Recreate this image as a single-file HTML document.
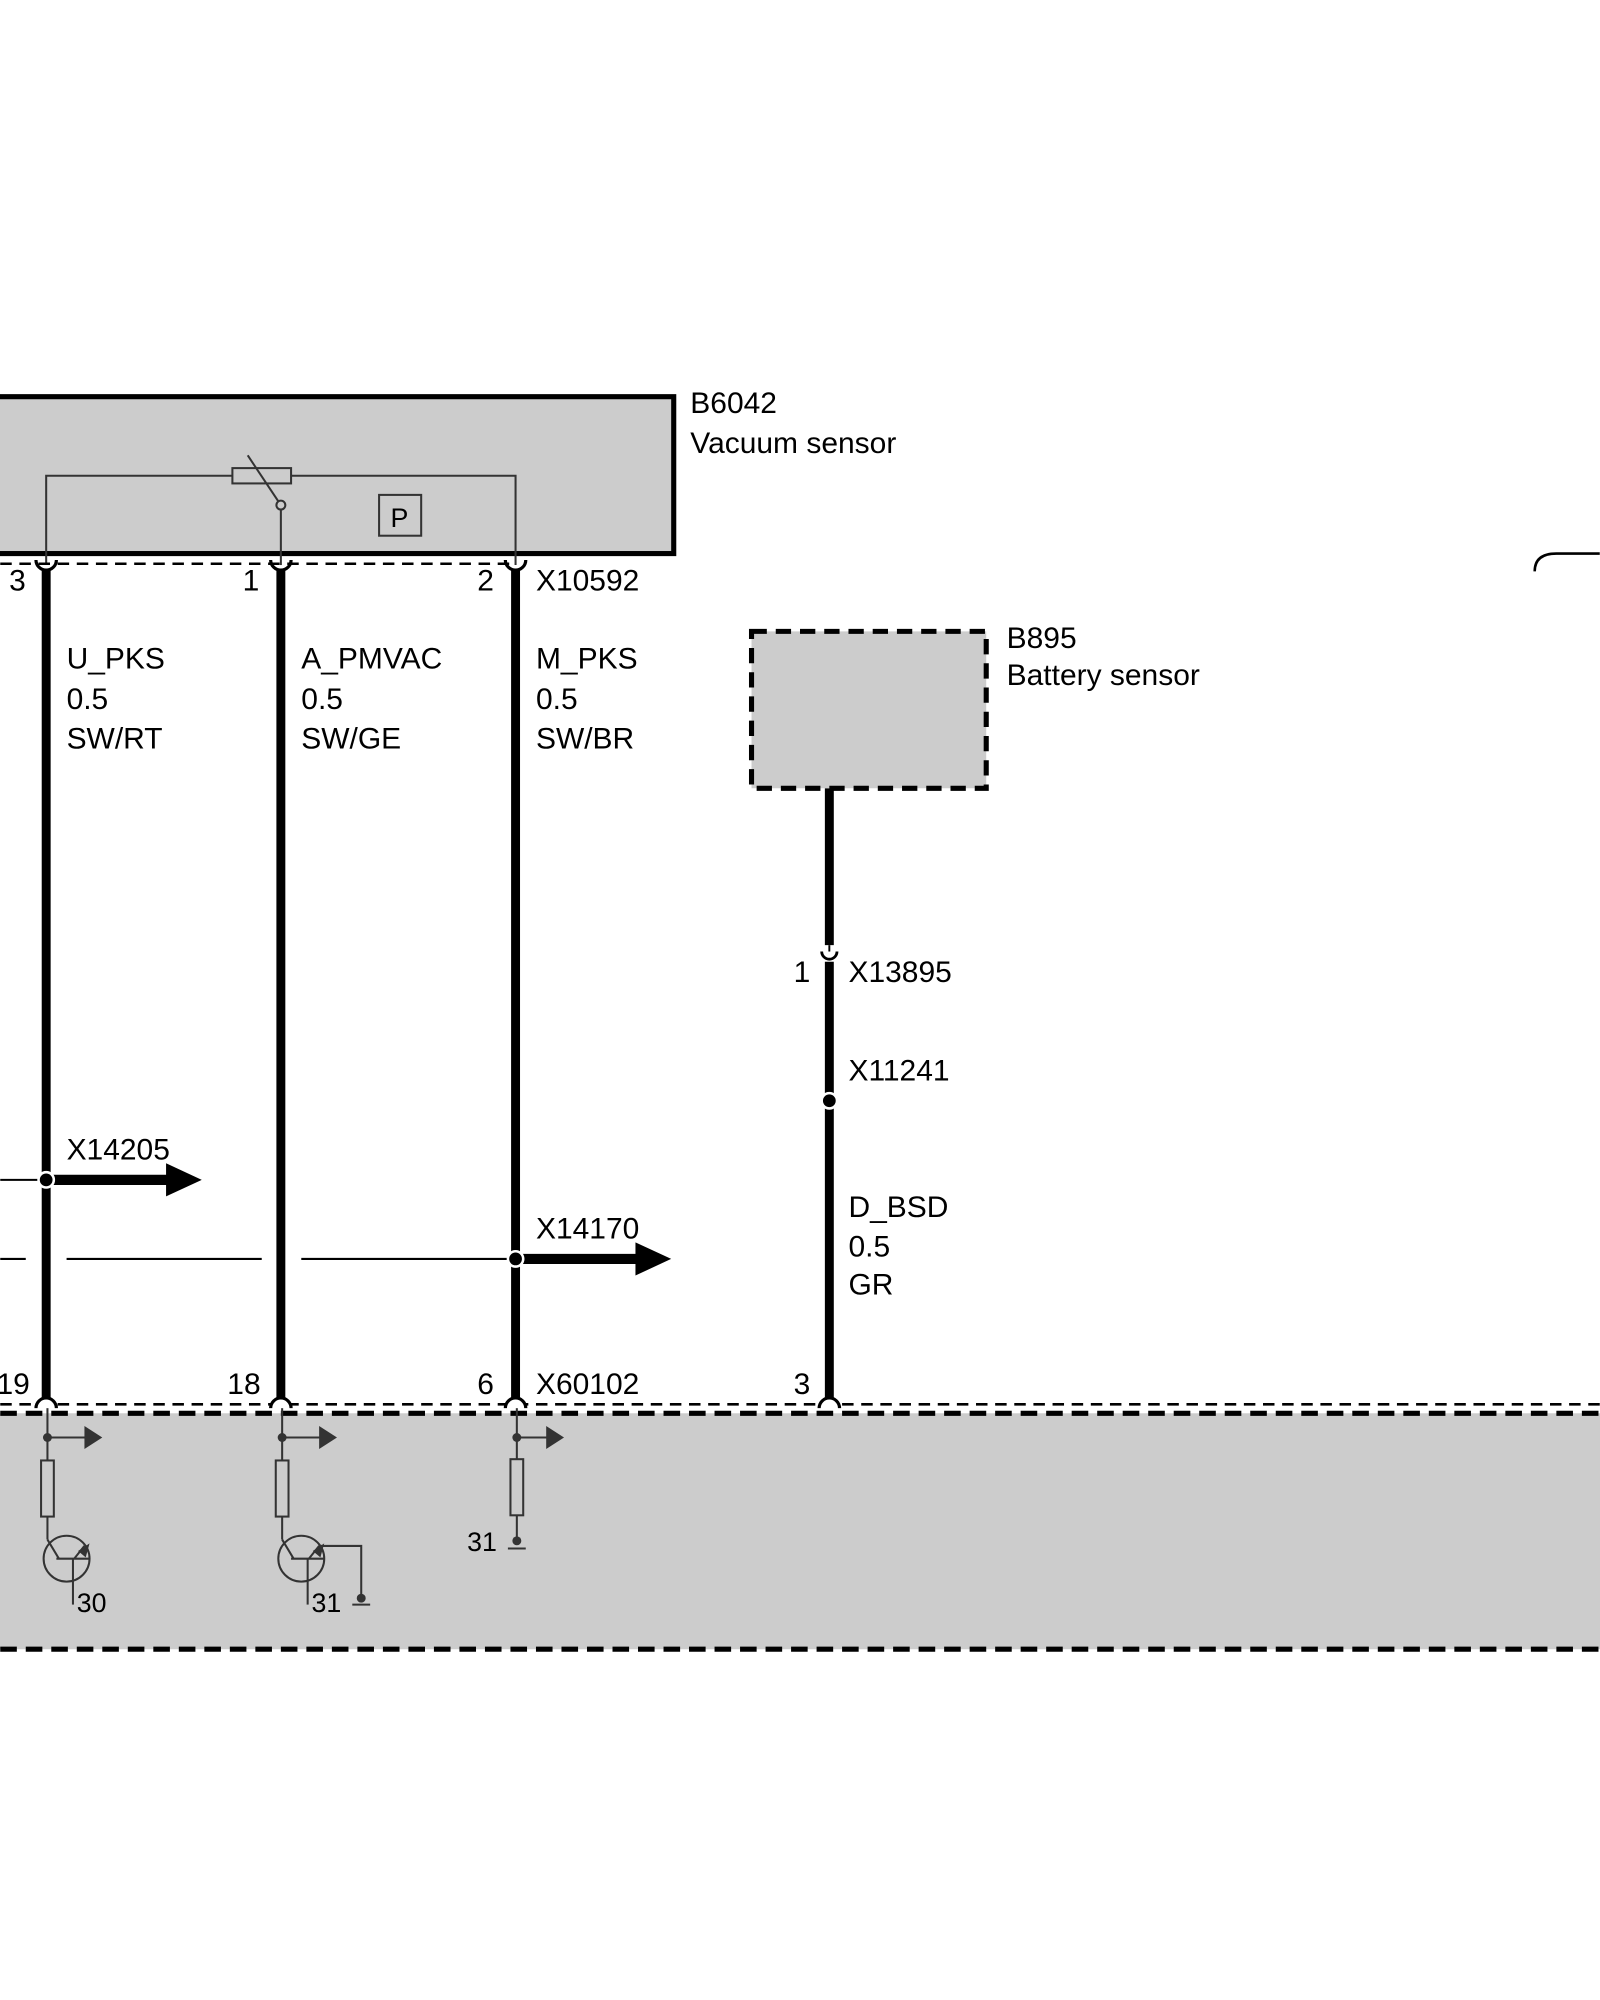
<!DOCTYPE html>
<html><head><meta charset="utf-8"><style>
html,body{margin:0;padding:0;background:#fff;width:1600px;height:2000px;overflow:hidden}
svg{display:block}
text{font-family:"Liberation Sans",sans-serif;fill:#000}
</style></head><body>
<svg width="1600" height="2000" viewBox="0 0 1254 1568" xmlns="http://www.w3.org/2000/svg">
<rect x="-10" y="311" width="538" height="123" fill="#ccc" stroke="#000" stroke-width="4"/>
<g stroke="#333" stroke-width="1.6" fill="none">
<polyline points="36,443 36,373 182,373"/>
<polyline points="228,373 404,373 404,443"/>
<rect x="182" y="367" width="46" height="12"/>
<line x1="194" y1="357" x2="218" y2="393"/>
<circle cx="220" cy="396" r="3.5" fill="#ccc"/>
<line x1="220" y1="400" x2="220" y2="443"/>
<rect x="297" y="388" width="33" height="32"/>
</g>
<text x="313" y="413" font-size="21" text-anchor="middle" fill="#333">P</text>
<g font-size="23.5">
<text x="541" y="324">B6042</text>
<text x="541" y="355">Vacuum sensor</text>
</g>
<line x1="0" y1="442" x2="404" y2="442" stroke="#000" stroke-width="2" stroke-dasharray="9,6"/>
<g stroke="#000" stroke-width="2.5" fill="none">
<path d="M28,439 A8,8 0 0 0 44,439"/>
<path d="M212,439 A8,8 0 0 0 228,439"/>
<path d="M396,439 A8,8 0 0 0 412,439"/>
</g>
<g stroke="#000" stroke-width="7">
<line x1="36" y1="446" x2="36" y2="1097"/>
<line x1="220" y1="446" x2="220" y2="1097"/>
<line x1="404" y1="446" x2="404" y2="1097"/>
<line x1="650" y1="618" x2="650" y2="741"/>
<line x1="650" y1="754" x2="650" y2="1097"/>
</g>
<g font-size="23.5">
<text x="7" y="463">3</text>
<text x="190" y="463">1</text>
<text x="374" y="463">2</text>
<text x="420" y="463">X10592</text>
<text x="52" y="524">U_PKS</text><text x="52" y="556">0.5</text><text x="52" y="587">SW/RT</text>
<text x="236" y="524">A_PMVAC</text><text x="236" y="556">0.5</text><text x="236" y="587">SW/GE</text>
<text x="420" y="524">M_PKS</text><text x="420" y="556">0.5</text><text x="420" y="587">SW/BR</text>
</g>
<rect x="589" y="495" width="184" height="123" fill="#ccc" stroke="#000" stroke-width="4" stroke-dasharray="12,7"/>
<g font-size="23.5">
<text x="789" y="508">B895</text>
<text x="789" y="537">Battery sensor</text>
</g>
<line x1="650" y1="741" x2="650" y2="746" stroke="#000" stroke-width="1.5"/>
<path d="M644,746 A6,6 0 0 0 656,746" stroke="#000" stroke-width="2.2" fill="none"/>
<g font-size="23.5">
<text x="622" y="770">1</text>
<text x="665" y="770">X13895</text>
<text x="665" y="847">X11241</text>
<text x="665" y="954">D_BSD</text><text x="665" y="985">0.5</text><text x="665" y="1015">GR</text>
</g>
<circle cx="650" cy="863" r="6" fill="#000" stroke="#fff" stroke-width="2"/>
<path d="M1203,448 Q1203,434 1220,434 L1254,434" stroke="#000" stroke-width="2" fill="none"/>
<line x1="0" y1="925" x2="36" y2="925" stroke="#000" stroke-width="1.6"/>
<line x1="36" y1="925" x2="136" y2="925" stroke="#000" stroke-width="8"/>
<polygon points="130,912 158,925 130,938" fill="#000"/>
<circle cx="36" cy="925" r="6" fill="#000" stroke="#fff" stroke-width="2"/>
<text x="52" y="909" font-size="23.5">X14205</text>
<g stroke="#000" stroke-width="1.6">
<line x1="0" y1="987" x2="20" y2="987"/>
<line x1="52" y1="987" x2="205" y2="987"/>
<line x1="236" y1="987" x2="400" y2="987"/>
</g>
<line x1="404" y1="987" x2="504" y2="987" stroke="#000" stroke-width="8"/>
<polygon points="498,974 526,987 498,1000" fill="#000"/>
<circle cx="404" cy="987" r="6" fill="#000" stroke="#fff" stroke-width="2"/>
<text x="420" y="971" font-size="23.5">X14170</text>
<rect x="-10" y="1108" width="1280" height="185" fill="#ccc"/>
<line x1="0" y1="1108" x2="1254" y2="1108" stroke="#000" stroke-width="4" stroke-dasharray="13,7"/>
<line x1="0" y1="1293" x2="1254" y2="1293" stroke="#000" stroke-width="4" stroke-dasharray="13,7"/>
<line x1="0" y1="1101" x2="1254" y2="1101" stroke="#000" stroke-width="2" stroke-dasharray="9,6"/>
<g stroke="#000" stroke-width="2.5" fill="#fff">
<path d="M28,1104 A8,8 0 0 1 44,1104"/>
<path d="M212,1104 A8,8 0 0 1 228,1104"/>
<path d="M396,1104 A8,8 0 0 1 412,1104"/>
<path d="M642,1104 A8,8 0 0 1 658,1104"/>
</g>
<g font-size="23.5">
<text x="-3" y="1093">19</text>
<text x="178" y="1093">18</text>
<text x="374" y="1093">6</text>
<text x="420" y="1093">X60102</text>
<text x="622" y="1093">3</text>
</g>
<g stroke="#333" stroke-width="1.6" fill="none">
<line x1="37" y1="1104" x2="37" y2="1145"/><line x1="37" y1="1127" x2="70" y2="1127"/>
<rect x="32" y="1145" width="10" height="44"/><line x1="37" y1="1189" x2="37" y2="1207"/>
<circle cx="52" cy="1222" r="18"/>
<line x1="37" y1="1207" x2="46" y2="1222"/><line x1="44" y1="1222" x2="70" y2="1222"/>
<line x1="58" y1="1222" x2="66" y2="1212"/><line x1="57" y1="1222" x2="57" y2="1258"/>
<line x1="221" y1="1104" x2="221" y2="1145"/><line x1="221" y1="1127" x2="254" y2="1127"/>
<rect x="216" y="1145" width="10" height="44"/><line x1="221" y1="1189" x2="221" y2="1207"/>
<circle cx="236" cy="1222" r="18"/>
<line x1="221" y1="1207" x2="230" y2="1222"/><line x1="228" y1="1222" x2="254" y2="1222"/>
<line x1="242" y1="1222" x2="250" y2="1212"/><line x1="241" y1="1222" x2="241" y2="1258"/>
<polyline points="250,1212 283,1212 283,1253"/><line x1="276" y1="1258" x2="290" y2="1258"/>
<line x1="405" y1="1104" x2="405" y2="1144"/><line x1="405" y1="1127" x2="430" y2="1127"/>
<rect x="400" y="1144" width="10" height="44"/><line x1="405" y1="1188" x2="405" y2="1208"/>
<line x1="398" y1="1214" x2="412" y2="1214"/>
</g>
<g fill="#333">
<circle cx="37" cy="1127" r="3.5"/><polygon points="66,1118 80,1127 66,1136"/>
<circle cx="221" cy="1127" r="3.5"/><polygon points="250,1118 264,1127 250,1136"/>
<circle cx="405" cy="1127" r="3.5"/><polygon points="428,1118 442,1127 428,1136"/>
<polygon points="61,1216 70,1210 67,1221"/><polygon points="245,1216 254,1210 251,1221"/>
<circle cx="283" cy="1253" r="3.5"/><circle cx="405" cy="1208" r="3.5"/>
</g>
<g font-size="21">
<text x="60" y="1264">30</text>
<text x="244" y="1264">31</text>
<text x="366" y="1216">31</text>
</g>
</svg>
</body></html>
